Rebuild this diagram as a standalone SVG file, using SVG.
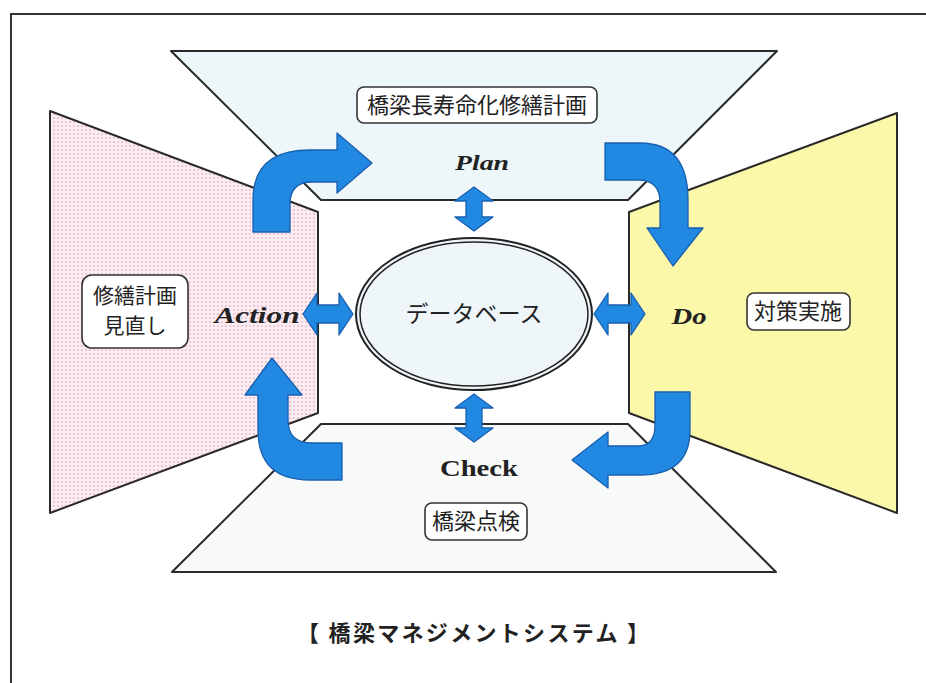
<svg xmlns="http://www.w3.org/2000/svg" width="926" height="683" viewBox="0 0 926 683">
<defs>
<pattern id="pinkdots" width="4" height="4" patternUnits="userSpaceOnUse">
<rect width="4" height="4" fill="#fbeef2"/>
<circle cx="2" cy="2" r="0.95" fill="#eeb3c6"/>
</pattern>
<style>
.wall{stroke:#2a2a2a;stroke-width:2;stroke-linejoin:round}
.box{fill:#ffffff;stroke:#333;stroke-width:1.6}
.jp{font-family:"Noto Sans CJK JP","Noto Sans CJK SC",sans-serif;fill:#222;text-anchor:middle}
.en{font-family:"Liberation Serif",serif;font-weight:bold;fill:#222;text-anchor:middle}
.arr{fill:#2189e2;stroke:#1a5fae;stroke-width:1.3;stroke-linejoin:round}
</style>
</defs>
<rect width="926" height="683" fill="#ffffff"/>
<path d="M11,683 L11,14 L926,14" fill="none" stroke="#333" stroke-width="2"/>

<g id="plan-wall">
<polygon class="wall" points="171,51 777,51 628,200 321,200" fill="#edf7f9"/>
</g>
<g id="check-wall">
<polygon class="wall" points="321,424 628,424 776,572 172,572" fill="#f8f9f9"/>
</g>
<g id="action-wall">
<polygon class="wall" points="50,111 318,212 318,413 50,513" fill="url(#pinkdots)"/>
</g>
<g id="do-wall">
<polygon class="wall" points="629,212 897,113 897,513 629,413" fill="#fcf8a9"/>
</g>

<g id="database">
<ellipse cx="474" cy="314" rx="118" ry="76" fill="#eef6f9" stroke="#222" stroke-width="2"/>
<ellipse cx="474" cy="314" rx="114" ry="72" fill="none" stroke="#222" stroke-width="1.5"/>
<text class="jp" x="474" y="322" font-size="23">データベース</text>
</g>

<g id="connectors">
<path class="arr" d="M253,232 L253,200 Q253,150 310,150 L337,150 L337,133 L372,163 L337,193 L337,182 L312,182 Q290,182 290,204 L290,232 Z"/>
<path class="arr" d="M605,143 L640,143 Q688,143 688,200 L688,228 L703,228 L673,266 L647,228 L660,228 L660,202 Q660,180 638,180 L605,180 Z"/>
<path class="arr" d="M655,392 L690,392 L690,430 Q690,475 640,475 L608,475 L608,488 L572,460 L608,432 L608,446 L638,446 Q655,446 655,425 Z"/>
<path class="arr" d="M258,395 L245,395 L272,358 L302,395 L288,395 L288,420 Q288,443 312,443 L342,443 L342,480 L310,480 Q258,480 258,430 Z"/>
<path class="arr" d="M474,187 L493,201 L482,201 L482,217 L493,217 L474,231 L455,217 L466,217 L466,201 L455,201 Z"/>
<path class="arr" d="M474,394 L493,408 L482,408 L482,428 L493,428 L474,442 L455,428 L466,428 L466,408 L455,408 Z"/>
<path class="arr" d="M303,314 L317,293 L317,305 L339,305 L339,293 L353,314 L339,335 L339,323 L317,323 L317,335 Z"/>
<path class="arr" d="M594,314 L608,293 L608,305 L631,305 L631,293 L645,314 L631,335 L631,323 L608,323 L608,335 Z"/>
</g>

<g id="plan">
<rect class="box" x="357" y="87" width="240" height="36" rx="7"/>
<text class="jp" x="477" y="113" font-size="22">橋梁長寿命化修繕計画</text>
<text class="en" x="482" y="170" font-size="22" font-style="italic" textLength="54" lengthAdjust="spacingAndGlyphs">Plan</text>
</g>
<g id="action">
<rect class="box" x="82" y="275" width="106" height="73" rx="10"/>
<text class="jp" x="135" y="303" font-size="21">修繕計画</text>
<text class="jp" x="135" y="333" font-size="21">見直し</text>
<text class="en" x="257" y="323" font-size="23" font-style="italic" textLength="85" lengthAdjust="spacingAndGlyphs">Action</text>
</g>
<g id="do">
<rect class="box" x="747" y="293" width="103" height="37" rx="7"/>
<text class="jp" x="798" y="319" font-size="22">対策実施</text>
<text class="en" x="689" y="324" font-size="24" font-style="italic" textLength="35" lengthAdjust="spacingAndGlyphs">Do</text>
</g>
<g id="check">
<rect class="box" x="425" y="503" width="102" height="37" rx="7"/>
<text class="jp" x="476" y="529" font-size="22">橋梁点検</text>
<text class="en" x="479" y="476" font-size="24" textLength="78" lengthAdjust="spacingAndGlyphs">Check</text>
</g>

<g id="title">
<text class="jp" x="473" y="641" font-size="22" font-weight="bold" textLength="352" lengthAdjust="spacing">【 橋梁マネジメントシステム 】</text>
</g>
</svg>
